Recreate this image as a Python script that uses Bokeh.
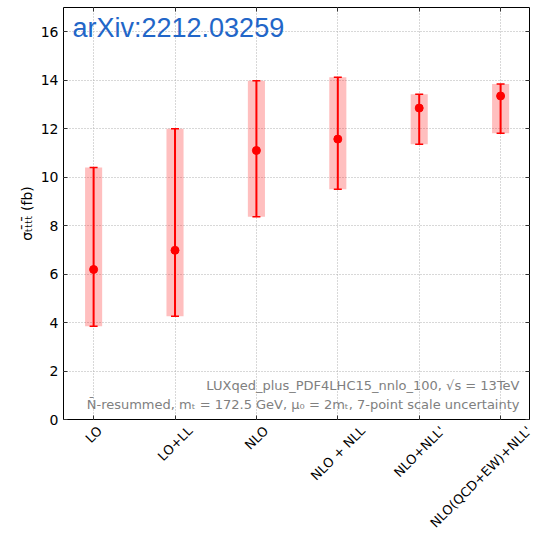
import math

from bokeh.embed import file_html
from bokeh.models import (ColumnDataSource, FixedTicker, Label, LinearAxis,
                          Range1d, TeeHead, Whisker)
from bokeh.plotting import figure
from bokeh.resources import INLINE

# Four-top cross section at successive perturbative orders (fb)
orders = ["LO", "LO+LL", "NLO", "NLO + NLL", "NLO+NLL'", "NLO(QCD+EW)+NLL'"]
central = [6.19, 6.98, 11.10, 11.57, 12.85, 13.35]
scale_low = [3.85, 4.26, 8.37, 9.50, 11.36, 11.81]
scale_high = [10.40, 12.00, 13.98, 14.12, 13.42, 13.84]
y_ticks = [0, 2, 4, 6, 8, 10, 12, 14, 16]

positions = list(range(len(orders)))

FONT = "DejaVu Sans"
TICK_FS = 14
XLAB_FS = 13
X0, X1 = -0.37, 5.355
FRAME_W = 466

src = ColumnDataSource(dict(x=positions, y=central, lo=scale_low, hi=scale_high))

p = figure(width=559, height=541,
           x_range=Range1d(X0, X1), y_range=Range1d(0, 17),
           output_backend="svg", toolbar_location=None,
           min_border_left=63, min_border_right=30,
           min_border_top=7, min_border_bottom=122)
p.background_fill_color = "white"
p.border_fill_color = "white"
p.outline_line_color = "black"
p.outline_line_width = 1


def tick_only(ax):
    ax.axis_line_color = None
    ax.major_tick_in = 4
    ax.major_tick_out = 0
    ax.major_tick_line_color = "#333333"
    ax.minor_tick_line_color = None
    ax.major_label_text_font_size = "1px"
    ax.major_label_text_color = None
    ax.major_label_standoff = 0


# boxed frame: inward ticks on all four sides
p.xaxis.ticker = FixedTicker(ticks=positions)
tick_only(p.xaxis[0])

p.yaxis.ticker = FixedTicker(ticks=y_ticks)
yax = p.yaxis[0]
yax.axis_line_color = None
yax.major_tick_in = 4
yax.major_tick_out = 0
yax.major_tick_line_color = "#333333"
yax.minor_tick_line_color = None
yax.major_label_text_font = FONT
yax.major_label_text_font_size = f"{TICK_FS}px"
yax.major_label_text_color = "black"
yax.major_label_standoff = 5
yax.axis_label = "σₜₜ\u0304ₜₜ\u0304 (fb)"
yax.axis_label_text_font = FONT
yax.axis_label_text_font_size = "14px"
yax.axis_label_text_font_style = "normal"
yax.axis_label_text_color = "black"
yax.axis_label_standoff = 3

right_ax = LinearAxis(ticker=FixedTicker(ticks=y_ticks))
tick_only(right_ax)
top_ax = LinearAxis(ticker=FixedTicker(ticks=positions))
tick_only(top_ax)
p.add_layout(right_ax, "right")
p.add_layout(top_ax, "above")

# rotated category names: each label sits on a tick nudged right by half its
# slanted length, so the slanted text is centred under its category
# (kept inside the frame, where the axis can still place it)
EM = {"L": 0.557, "O": 0.787, "N": 0.748, "+": 0.838, " ": 0.318, "'": 0.275,
      "(": 0.390, ")": 0.390, "Q": 0.787, "C": 0.698, "D": 0.770, "E": 0.632,
      "W": 0.989}
px_per_unit = FRAME_W / (X1 - X0)
label_ticks = []
overrides = {}
for xpos, name in zip(positions, orders):
    length = sum(EM.get(c, 0.6) for c in name) * XLAB_FS
    t = xpos + length * math.cos(math.pi / 4) / 2 / px_per_unit
    t = round(min(t, X1 - 0.003), 4)
    label_ticks.append(t)
    overrides[t] = name
name_ax = LinearAxis(ticker=FixedTicker(ticks=label_ticks),
                     major_label_overrides=overrides,
                     major_label_orientation=math.pi / 4,
                     major_label_text_font=FONT,
                     major_label_text_font_size=f"{XLAB_FS}px",
                     major_label_text_color="black",
                     major_label_standoff=3,
                     axis_line_color=None, major_tick_line_color=None,
                     minor_tick_line_color=None)
p.add_layout(name_ax, "below")

for g in (p.xgrid[0], p.ygrid[0]):
    g.grid_line_color = "#b0b0b0"
    g.grid_line_dash = "1 2"
    g.grid_line_width = 1
p.xgrid.ticker = FixedTicker(ticks=positions)
p.ygrid.ticker = FixedTicker(ticks=y_ticks)

# scale-uncertainty bands, error bars and central values
p.vbar(x="x", width=0.21, bottom="lo", top="hi", source=src,
       fill_color="red", fill_alpha=0.25, line_color=None)
wh = Whisker(source=src, base="x", lower="lo", upper="hi", dimension="height",
             line_color="red", line_width=2, level="glyph",
             upper_head=TeeHead(size=8, line_color="red", line_width=1.5),
             lower_head=TeeHead(size=8, line_color="red", line_width=1.5))
p.add_layout(wh)
p.scatter(x="x", y="y", source=src, size=8, color="red")

# reference tag, top left
p.add_layout(Label(x=9, y=391.5, x_units="screen", y_units="screen",
                   text="arXiv:2212.03259", text_align="left",
                   text_baseline="middle", text_font="Liberation Sans",
                   text_font_size="27px", text_color="#2266c8"))

# setup annotation, bottom right
p.add_layout(Label(x=FRAME_W - 10, y=34.5, x_units="screen", y_units="screen",
                   text="LUXqed_plus_PDF4LHC15_nnlo_100, √s = 13TeV",
                   text_align="right", text_baseline="middle",
                   text_font=FONT, text_font_size="13px", text_color="#808080"))
p.add_layout(Label(x=FRAME_W - 10, y=15.5, x_units="screen", y_units="screen",
                   text="N\u0304-resummed, mₜ = 172.5 GeV, μ₀ = 2mₜ, 7-point scale uncertainty",
                   text_align="right", text_baseline="middle",
                   text_font=FONT, text_font_size="13px", text_color="#808080"))

open("out.html", "w").write(file_html(p, INLINE))
